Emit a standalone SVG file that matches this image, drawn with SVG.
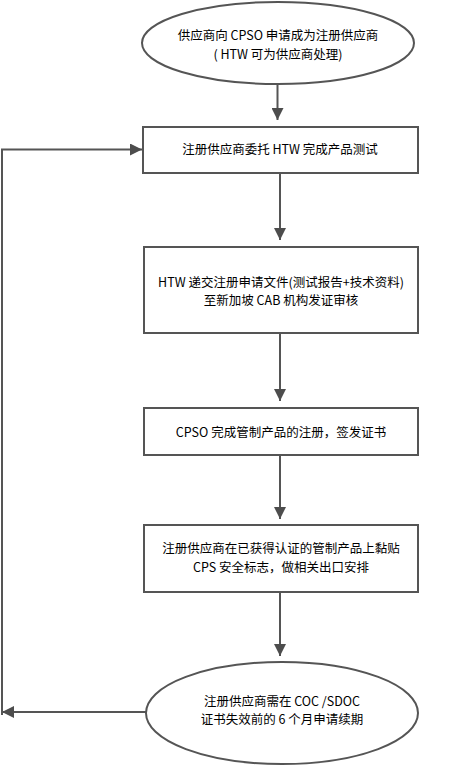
<svg xmlns="http://www.w3.org/2000/svg" width="451" height="765" viewBox="0 0 451 765">
<style>
.shape{fill:#fff;stroke:#555;stroke-width:2}
.conn{fill:none;stroke:#555;stroke-width:2}
text{font-family:"Noto Sans CJK SC","Liberation Sans",sans-serif;font-size:12.5px;fill:#000;text-anchor:middle}
</style>
<defs>
<marker id="ah" viewBox="0 0 12 12" refX="12" refY="6" markerWidth="12" markerHeight="12" markerUnits="userSpaceOnUse" orient="auto">
<path d="M0,0 L12,6 L0,12 Z" fill="#4d4d4d"/>
</marker>
</defs>
<rect width="451" height="765" fill="#fff"/>
<g id="connectors">
<line class="conn" x1="277.5" y1="84" x2="277.5" y2="120" marker-end="url(#ah)"/>
<line class="conn" x1="280" y1="174" x2="280" y2="240" marker-end="url(#ah)"/>
<line class="conn" x1="280" y1="334" x2="280" y2="401" marker-end="url(#ah)"/>
<line class="conn" x1="280" y1="456" x2="280" y2="519" marker-end="url(#ah)"/>
<line class="conn" x1="280" y1="593" x2="280" y2="656" marker-end="url(#ah)"/>
<line class="conn" x1="146" y1="712" x2="2" y2="712" marker-end="url(#ah)"/>
<polyline class="conn" points="2,715 2,149.5 142,149.5" marker-end="url(#ah)"/>
</g>
<g id="start">
<ellipse class="shape" cx="278" cy="43" rx="136" ry="41"/>
<text x="278" y="40">供应商向 CPSO 申请成为注册供应商</text>
<text x="278" y="59">( HTW 可为供应商处理)</text>
</g>
<g id="step1">
<rect class="shape" x="143" y="127" width="275" height="46"/>
<text x="280" y="154">注册供应商委托 HTW 完成产品测试</text>
</g>
<g id="step2">
<rect class="shape" x="144" y="247" width="274" height="86"/>
<text x="281" y="287">HTW 递交注册申请文件(测试报告+技术资料)</text>
<text x="281" y="305">至新加坡 CAB 机构发证审核</text>
</g>
<g id="step3">
<rect class="shape" x="144" y="408" width="274" height="47"/>
<text x="281" y="437">CPSO 完成管制产品的注册，签发证书</text>
</g>
<g id="step4">
<rect class="shape" x="144" y="525" width="274" height="67"/>
<text x="281" y="553">注册供应商在已获得认证的管制产品上黏贴</text>
<text x="281" y="572">CPS 安全标志，做相关出口安排</text>
</g>
<g id="end">
<ellipse class="shape" cx="282" cy="713" rx="136" ry="51"/>
<text x="282" y="706">注册供应商需在 COC /SDOC</text>
<text x="282" y="724">证书失效前的 6 个月申请续期</text>
</g>
</svg>
